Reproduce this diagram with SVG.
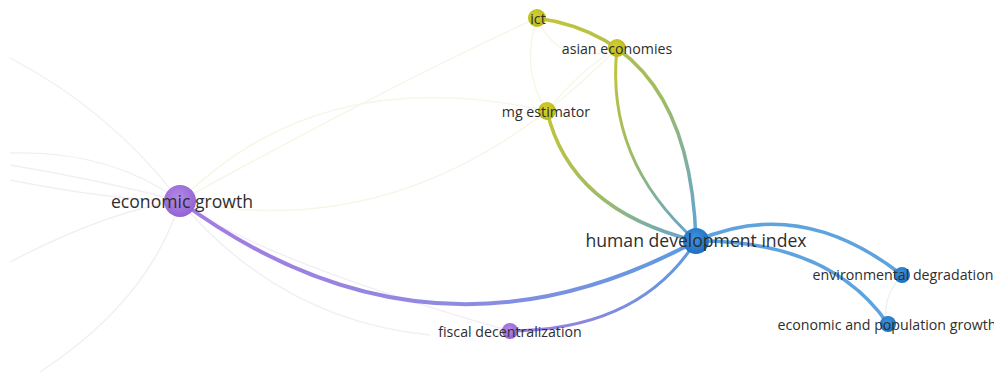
<svg xmlns="http://www.w3.org/2000/svg" width="994" height="374" viewBox="0 0 994 374">
<defs>
<linearGradient id="gPB" gradientUnits="userSpaceOnUse" x1="180" y1="201" x2="696" y2="241"><stop offset="0" stop-color="#a57be0"/><stop offset="0.55" stop-color="#8f8ae2"/><stop offset="1" stop-color="#5b9be0"/></linearGradient>
<linearGradient id="gFB" gradientUnits="userSpaceOnUse" x1="510" y1="331" x2="696" y2="241"><stop offset="0" stop-color="#a57be0"/><stop offset="1" stop-color="#5b9be0"/></linearGradient>
<linearGradient id="gYB1" gradientUnits="userSpaceOnUse" x1="537" y1="18" x2="696" y2="241"><stop offset="0" stop-color="#c3c536"/><stop offset="0.5" stop-color="#9fbb66"/><stop offset="1" stop-color="#5ea3d8"/></linearGradient>
<linearGradient id="gYB2" gradientUnits="userSpaceOnUse" x1="617" y1="48" x2="696" y2="241"><stop offset="0" stop-color="#c3c536"/><stop offset="0.5" stop-color="#9fbb66"/><stop offset="1" stop-color="#5ea3d8"/></linearGradient>
<linearGradient id="gYB3" gradientUnits="userSpaceOnUse" x1="547" y1="111" x2="696" y2="241"><stop offset="0" stop-color="#c3c536"/><stop offset="0.5" stop-color="#9fbb66"/><stop offset="1" stop-color="#5ea3d8"/></linearGradient>
<radialGradient id="nP" cx="0.45" cy="0.4" r="0.6"><stop offset="0" stop-color="#b48ae8"/><stop offset="1" stop-color="#9363d2"/></radialGradient>
<radialGradient id="nB" cx="0.45" cy="0.4" r="0.6"><stop offset="0" stop-color="#3c95e0"/><stop offset="1" stop-color="#1e6fbf"/></radialGradient>
<radialGradient id="nY" cx="0.45" cy="0.4" r="0.6"><stop offset="0" stop-color="#d4d232"/><stop offset="1" stop-color="#b9b81c"/></radialGradient>
</defs>
<style>
text{font-family:"Open Sans","Noto Sans","DejaVu Sans",sans-serif;fill:#2e2e2e;text-anchor:middle;dominant-baseline:central}
.big{font-size:17.6px}
.sm{font-size:14.2px}
.faintP{fill:none;stroke:#f3eef6;stroke-width:1.4}
.faintY{fill:none;stroke:#f6f6e8;stroke-width:1.4}
.edge{fill:none;stroke-linecap:round}
</style>
<rect width="994" height="374" fill="#ffffff"/>
<g id="connectors">
<path class="faintP" d="M10,58 Q110,110 180,201"/>
<path class="faintP" d="M10,153 Q110,150 180,201"/>
<path class="faintP" d="M10,165 Q100,180 180,201"/>
<path class="faintP" d="M10,180 Q110,200 180,201"/>
<path class="faintP" d="M10,262 Q110,210 180,201"/>
<path class="faintP" d="M40,372 Q150,300 180,201"/>
<path class="faintP" d="M180,201 Q280,320 430,335"/>
<path class="faintP" d="M180,201 Q260,260 510,331"/>
<path class="faintY" d="M180,201 Q320,60 547,111"/>
<path class="faintY" d="M180,201 Q420,250 617,48"/>
<path class="faintY" d="M180,201 Q400,80 537,18"/>
<path class="faintY" d="M537,18 Q520,70 547,111"/>
<path class="faintY" d="M617,48 Q580,70 547,111"/>
<path class="faintY" d="M537,18 Q560,70 617,48"/>
<path class="faintP" d="M902,275 Q880,300 888,324"/>
<path class="edge" d="M180,201 Q430,385 696,241" stroke="url(#gPB)" stroke-width="4"/>
<path class="edge" d="M510,331 Q640,330 696,241" stroke="url(#gFB)" stroke-width="3"/>
<path class="edge" d="M537,18 Q690,40 696,241" stroke="url(#gYB1)" stroke-width="3.5"/>
<path class="edge" d="M617,48 Q605,160 696,241" stroke="url(#gYB2)" stroke-width="3"/>
<path class="edge" d="M547,111 Q570,210 696,241" stroke="url(#gYB3)" stroke-width="3.5"/>
<path class="edge" d="M696,241 Q800,195 902,275" stroke="#5ea3de" stroke-width="3.5"/>
<path class="edge" d="M696,241 Q830,240 888,324" stroke="#5ea3de" stroke-width="3.5"/>
</g>
<g id="economic-growth"><circle cx="180" cy="201" r="16" fill="url(#nP)"/><text class="big" x="182" y="201">economic growth</text></g>
<g id="human-development-index"><circle cx="696" cy="241" r="13" fill="url(#nB)"/><text class="big" x="696" y="240">human development index</text></g>
<g id="ict"><circle cx="537" cy="18" r="9" fill="url(#nY)"/><text class="sm" x="538" y="18">ict</text></g>
<g id="asian-economies"><circle cx="617" cy="48" r="9" fill="url(#nY)"/><text class="sm" x="617" y="48">asian economies</text></g>
<g id="mg-estimator"><circle cx="547" cy="111" r="9" fill="url(#nY)"/><text class="sm" x="546" y="111">mg estimator</text></g>
<g id="environmental-degradation"><circle cx="902" cy="275" r="8" fill="url(#nB)"/><text class="sm" x="903" y="274">environmental degradation</text></g>
<g id="economic-and-population-growth"><circle cx="888" cy="324" r="8" fill="url(#nB)"/><text class="sm" x="887" y="324">economic and population growth</text></g>
<g id="fiscal-decentralization"><circle cx="510" cy="331" r="8" fill="url(#nP)"/><text class="sm" x="510" y="331">fiscal decentralization</text></g>
</svg>
